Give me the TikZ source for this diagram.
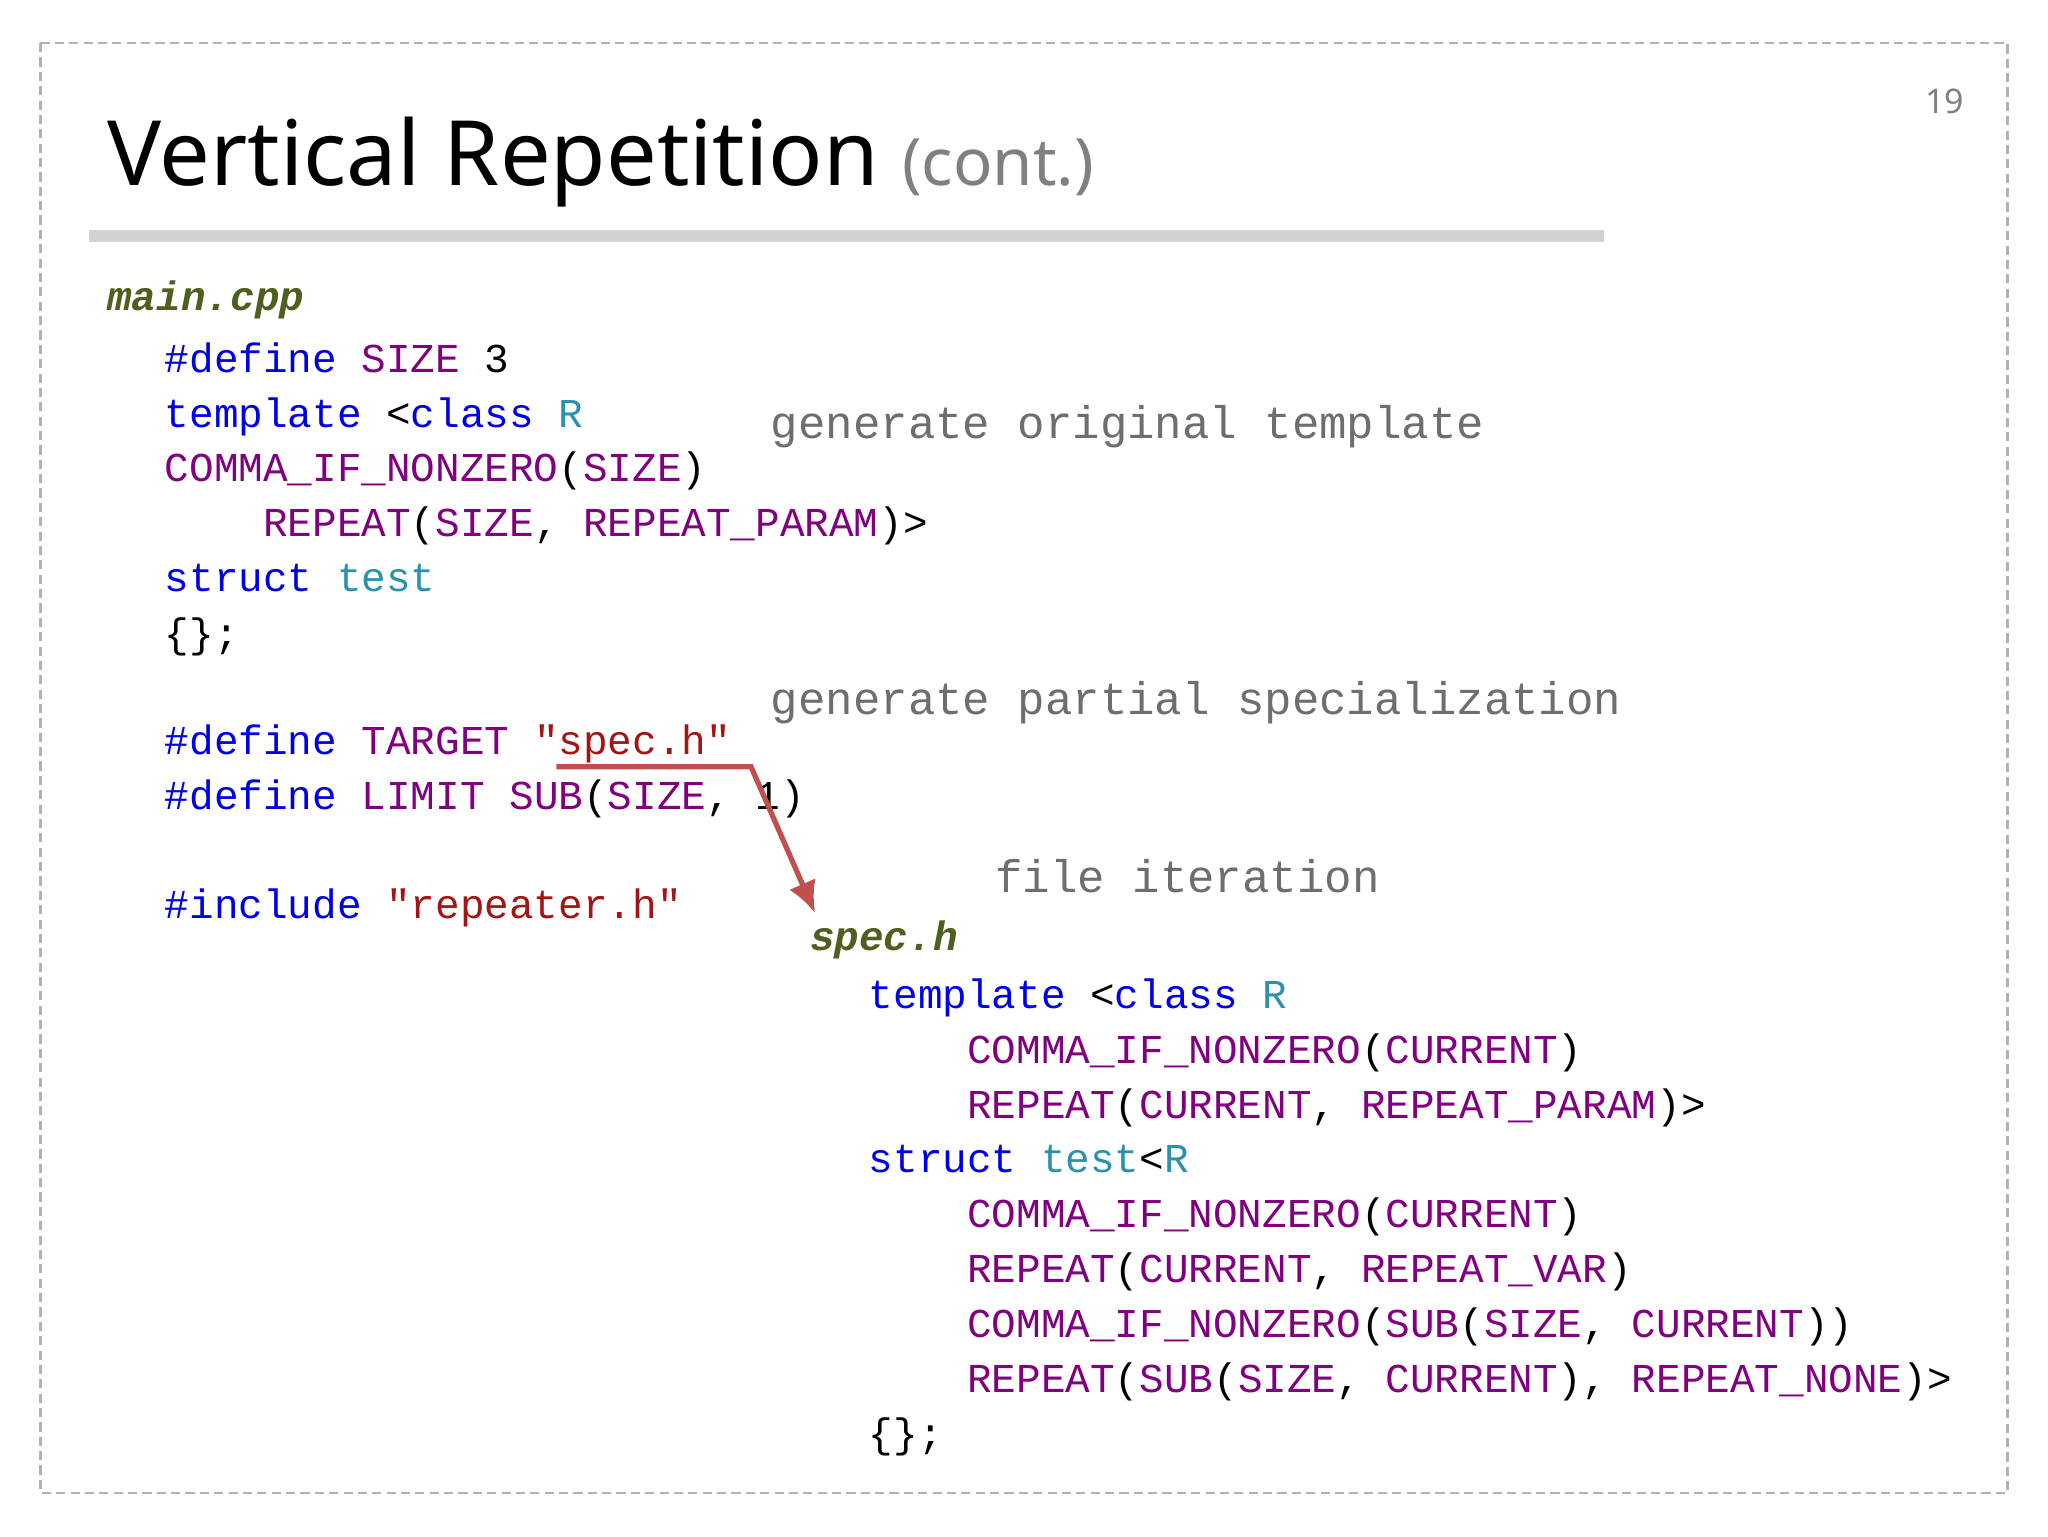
\documentclass[tikz,border=0pt]{standalone}
\usepackage{fontspec}
\usetikzlibrary{arrows.meta}
\setmainfont{Noto Sans}
\setmonofont{Liberation Mono}
\definecolor{kw}{RGB}{0,0,230}
\definecolor{mc}{RGB}{128,0,128}
\definecolor{tl}{RGB}{43,145,175}
\definecolor{st}{RGB}{163,21,21}
\definecolor{fn}{RGB}{79,95,31}
\definecolor{cm}{RGB}{110,110,110}
\definecolor{ar}{RGB}{192,80,77}
\newcommand{\K}[1]{\textcolor{kw}{#1}}
\newcommand{\M}[1]{\textcolor{mc}{#1}}
\newcommand{\T}[1]{\textcolor{tl}{#1}}
\newcommand{\St}[1]{\textcolor{st}{#1}}
\begin{document}
\begin{tikzpicture}[x=1pt,y=1pt,
  code/.style={anchor=base west,inner sep=0pt,font=\fontsize{31.4}{31.4}\ttfamily},
  cmt/.style={code,text=cm,font=\fontsize{35}{35}\ttfamily},
  fname/.style={code,text=fn,font=\fontsize{31.4}{31.4}\ttfamily\bfseries\itshape}]
\useasboundingbox (0,0) rectangle (1568,1176);
\fill[white] (0,0) rectangle (1568,1176);
\draw[gray!60,dash pattern=on 7pt off 4pt,line width=2] (31,1176-33) rectangle (1537,1176-1143);
\node[anchor=base east,inner sep=0pt,text=gray,font=\fontsize{26}{26}\selectfont] (pg) at (1504,1176-87) {19};
\node[anchor=base west,inner sep=0pt,font=\fontsize{69}{69}\selectfont] (title) at (82,1176-142) {Vertical Repetition \textcolor{gray}{\fontsize{50}{50}\selectfont(cont.)}};
\fill[gray!35] (68,1176-176) rectangle (1228,1176-185);
\node[fname] (main) at (82,1176-238) {main.cpp};
\node[code] (l1) at (126,1176-285) {\K{\#define} \M{SIZE} 3};
\node[code] (l2) at (126,1176-327) {\K{template} <\K{class} \T{R}};
\node[code] (l3) at (126,1176-369) {\M{COMMA\_IF\_NONZERO}(\M{SIZE})};
\node[code] (l4) at (126,1176-411) {\phantom{xxxx}\M{REPEAT}(\M{SIZE}, \M{REPEAT\_PARAM})>};
\node[code] (l5) at (126,1176-453) {\K{struct} \T{test}};
\node[code] (l6) at (126,1176-496) {\{\};};
\node[code] (l7) at (126,1176-578) {\K{\#define} \M{TARGET} \St{"spec.h"}};
\node[code] (l8) at (126,1176-620) {\K{\#define} \M{LIMIT} \M{SUB}(\M{SIZE}, 1)};
\node[code] (l9) at (126,1176-703) {\K{\#include} \St{"repeater.h"}};
\node[cmt] (c1) at (590,1176-336) {generate original template};
\node[cmt] (c2) at (590,1176-547) {generate partial specialization};
\node[cmt] (c3) at (762,1176-683) {file iteration};
\node[fname] (spec) at (620,1176-728) {spec.h};
\node[code] (s1) at (665,1176-772) {\K{template} <\K{class} \T{R}};
\node[code] (s2) at (665,1176-814) {\phantom{xxxx}\M{COMMA\_IF\_NONZERO}(\M{CURRENT})};
\node[code] (s3) at (665,1176-856) {\phantom{xxxx}\M{REPEAT}(\M{CURRENT}, \M{REPEAT\_PARAM})>};
\node[code] (s4) at (665,1176-898) {\K{struct} \T{test}<\T{R}};
\node[code] (s5) at (665,1176-940) {\phantom{xxxx}\M{COMMA\_IF\_NONZERO}(\M{CURRENT})};
\node[code] (s6) at (665,1176-982) {\phantom{xxxx}\M{REPEAT}(\M{CURRENT}, \M{REPEAT\_VAR})};
\node[code] (s7) at (665,1176-1024) {\phantom{xxxx}\M{COMMA\_IF\_NONZERO}(\M{SUB}(\M{SIZE}, \M{CURRENT}))};
\node[code] (s8) at (665,1176-1066) {\phantom{xxxx}\M{REPEAT}(\M{SUB}(\M{SIZE}, \M{CURRENT}), \M{REPEAT\_NONE})>};
\node[code] (s9) at (665,1176-1108) {\{\};};
\coordinate (a1) at (426,1176-587);
\coordinate (a2) at (575,1176-587);
\coordinate (a3) at (624,1176-699);
\draw[ar,line width=4,-{Latex[length=24,width=22]}] (a1) -- (a2) -- (a3);
\end{tikzpicture}
\end{document}
